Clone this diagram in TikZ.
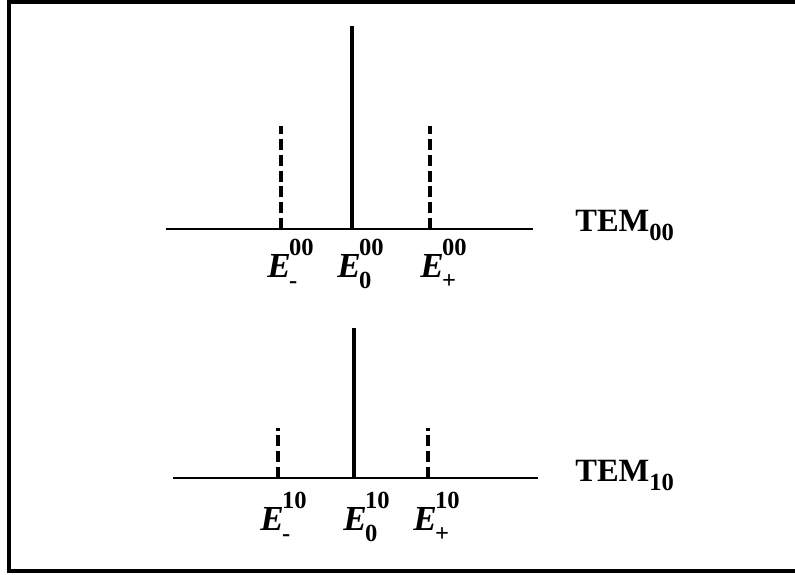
\documentclass[tikz,border=0pt]{standalone}
\usepackage{fontspec}
\setmainfont{Liberation Serif}
\usetikzlibrary{positioning}

% label E with upper and lower index
\newcommand{\elab}[2]{{\bfseries\itshape E}\kern-0.05em\rlap{\raisebox{0.6em}{\bfseries\fontsize{14}{14}\selectfont #1}}\raisebox{-0.32em}{\bfseries\fontsize{14}{14}\selectfont #2}}
\newcommand{\temlab}[1]{\bfseries TEM\raisebox{-0.3em}{\fontsize{14}{14}\selectfont #1}}

\begin{document}
\begin{tikzpicture}[
        x=0.02cm, y=-0.02cm,
        frame/.style={line width=2.3pt},
        axis/.style={line width=1.7pt},
        peak/.style={line width=1.8pt},
        side peak/.style={line width=1.8pt, dash pattern=on 6.2pt off 2.8pt},
        level/.style={font=\fontsize{20}{22}\selectfont, anchor=base west, inner sep=0pt},
        mode/.style={font=\fontsize{18.5}{22}\selectfont, anchor=base west, inner sep=0pt},
    ]
    \useasboundingbox (0,0) rectangle (795,575);

    % Frame (open to the right)
    \draw[frame] (795,2) -- (9,2) -- (9,571) -- (795,571);

    % TEM00 spectrum
    \coordinate (a0l) at (166,229);
    \coordinate (a0r) at (533,229);
    \coordinate (m0) at (281,229);
    \coordinate (c0) at (352,229);
    \coordinate (p0) at (430,229);
    \coordinate (m0top) at (281,126);
    \coordinate (c0top) at (352,26);
    \coordinate (p0top) at (430,126);
    \draw[axis] (a0l) -- (a0r);
    \draw[peak] (c0) -- (c0top);
    \draw[side peak] (m0) -- (m0top);
    \draw[side peak] (p0) -- (p0top);
    \node[level] (em0) at (267,277) {\elab{00}{-}};
    \node[level] (ec0) at (337,277) {\elab{00}{0}};
    \node[level] (ep0) at (420,277) {\elab{00}{+}};
    \node[mode] (tem0) at (575,231) {\temlab{00}};

    % TEM10 spectrum
    \coordinate (a1l) at (173,478);
    \coordinate (a1r) at (538,478);
    \coordinate (m1) at (278,478);
    \coordinate (c1) at (354,478);
    \coordinate (p1) at (428,478);
    \coordinate (m1top) at (278,428);
    \coordinate (c1top) at (354,328);
    \coordinate (p1top) at (428,428);
    \draw[axis] (a1l) -- (a1r);
    \draw[peak] (c1) -- (c1top);
    \draw[side peak] (m1) -- (m1top);
    \draw[side peak] (p1) -- (p1top);
    \node[level] (em1) at (260,530) {\elab{10}{-}};
    \node[level] (ec1) at (343,530) {\elab{10}{0}};
    \node[level] (ep1) at (413,530) {\elab{10}{+}};
    \node[mode] (tem1) at (575,481) {\temlab{10}};

\end{tikzpicture}
\end{document}
